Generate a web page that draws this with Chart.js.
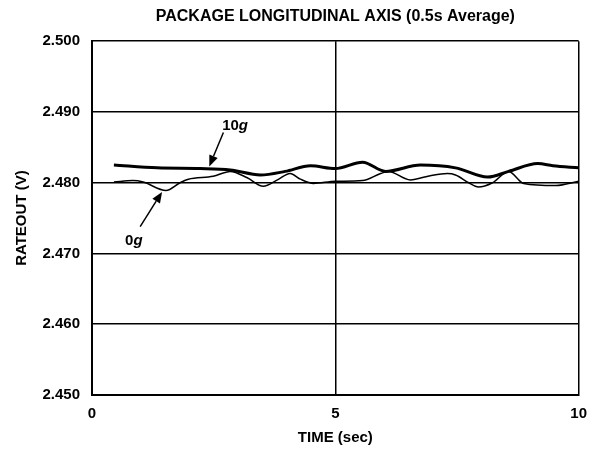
<!DOCTYPE html>
<html>
<head>
<meta charset="utf-8">
<script src="https://cdn.jsdelivr.net/npm/chart.js@4.4.0/dist/chart.umd.min.js"></script>
<style>
  html, body { margin: 0; padding: 0; background: #fff; }
</style>
</head>
<body>
<canvas id="chart" width="597" height="452"></canvas>
<script>
// data
const time10g = [0.45, 1.34, 2.22, 2.84, 3.46, 3.97, 4.49, 5.0, 5.56, 6.03, 6.75, 7.47, 8.13, 8.56, 9.16, 9.47, 10];
const rate10g = [2.4825, 2.4821, 2.4820, 2.4818, 2.4811, 2.4816, 2.4824, 2.4820, 2.4829, 2.4816, 2.4825, 2.4821, 2.4808, 2.4816, 2.4827, 2.4824, 2.4821];
const time0g = [0.45, 0.84, 1.05, 1.52, 1.81, 1.98, 2.49, 2.84, 3.19, 3.52, 3.81, 4.07, 4.28, 4.55, 5.0, 5.56, 5.93, 6.09, 6.54, 6.95, 7.30, 7.47, 7.74, 7.94, 8.23, 8.56, 8.87, 9.53, 10];
const rate0g = [2.4801, 2.4803, 2.4801, 2.4789, 2.4800, 2.4805, 2.4809, 2.4816, 2.4807, 2.4795, 2.4804, 2.4813, 2.4805, 2.4799, 2.4802, 2.4803, 2.4813, 2.4816, 2.4804, 2.4810, 2.4813, 2.4811, 2.4800, 2.4794, 2.4800, 2.4816, 2.4799, 2.4796, 2.4802];
const yTicks = [2.450, 2.460, 2.470, 2.480, 2.490, 2.500];
const xTicks = [0, 5, 10];
const seriesNames = ['10', '0'];

const FONT = "'Liberation Sans', Arial, Helvetica, sans-serif";

function toPoints(xs, ys) {
    return xs.map((x, i) => ({ x: x, y: ys[i] }));
}

// arrows + "10g" / "0g" labels, placed in data units
const callouts = {
    id: 'callouts',
    afterDatasetsDraw(chart) {
        const { ctx, scales: { x, y } } = chart;
        const items = [
            { name: seriesNames[0], text: [2.94, 2.4881], from: [2.70, 2.4871], to: [2.41, 2.4823] },
            { name: seriesNames[1], text: [0.86, 2.4718], from: [0.99, 2.4738], to: [1.44, 2.4787] }
        ];
        ctx.save();
        ctx.strokeStyle = '#000';
        ctx.fillStyle = '#000';
        items.forEach(it => {
            const x1 = x.getPixelForValue(it.from[0]), y1 = y.getPixelForValue(it.from[1]);
            const x2 = x.getPixelForValue(it.to[0]), y2 = y.getPixelForValue(it.to[1]);
            const ang = Math.atan2(y2 - y1, x2 - x1);
            const head = 11, half = 4.5;
            const bx = x2 - head * Math.cos(ang), by = y2 - head * Math.sin(ang);
            ctx.lineWidth = 1.5;
            ctx.beginPath();
            ctx.moveTo(x1, y1);
            ctx.lineTo(bx, by);
            ctx.stroke();
            ctx.beginPath();
            ctx.moveTo(x2, y2);
            ctx.lineTo(bx + half * Math.sin(ang), by - half * Math.cos(ang));
            ctx.lineTo(bx - half * Math.sin(ang), by + half * Math.cos(ang));
            ctx.closePath();
            ctx.fill();

            // number in bold, "g" in bold italic
            const tx = x.getPixelForValue(it.text[0]), ty = y.getPixelForValue(it.text[1]);
            ctx.textBaseline = 'middle';
            ctx.font = 'bold 15px ' + FONT;
            const w1 = ctx.measureText(it.name).width;
            ctx.font = 'italic bold 15px ' + FONT;
            const w2 = ctx.measureText('g').width;
            let sx = tx - (w1 + w2) / 2;
            ctx.textAlign = 'left';
            ctx.font = 'bold 15px ' + FONT;
            ctx.fillText(it.name, sx, ty);
            ctx.font = 'italic bold 15px ' + FONT;
            ctx.fillText('g', sx + w1, ty);
        });
        ctx.restore();
    }
};

const ctx = document.getElementById('chart').getContext('2d');
const chart = new Chart(ctx, {
    type: 'line',
    data: {
        datasets: [
            {
                label: '10g',
                data: toPoints(time10g, rate10g),
                borderColor: '#000',
                borderWidth: 3,
                pointRadius: 0,
                cubicInterpolationMode: 'monotone',
                fill: false
            },
            {
                label: '0g',
                data: toPoints(time0g, rate0g),
                borderColor: '#000',
                borderWidth: 1.5,
                pointRadius: 0,
                cubicInterpolationMode: 'monotone',
                fill: false
            }
        ]
    },
    options: {
        responsive: false,
        animation: false,
        devicePixelRatio: 1,
        layout: {
            padding: { left: 0, right: 18, top: 0, bottom: 0 }
        },
        plugins: {
            legend: { display: false },
            tooltip: { enabled: false },
            title: {
                display: true,
                fullSize: false,
                text: 'PACKAGE LONGITUDINAL AXIS (0.5s Average)',
                color: '#000',
                font: { family: FONT, size: 16, weight: 'bold' },
                padding: { top: 7, bottom: 15 }
            }
        },
        scales: {
            x: {
                type: 'linear',
                min: 0,
                max: 10,
                afterBuildTicks: axis => { axis.ticks = xTicks.map(v => ({ value: v })); },
                afterFit: axis => { axis.height = 57; },
                grid: { color: '#000', lineWidth: 1.5, drawTicks: false },
                border: { display: true, color: '#000', width: 2 },
                ticks: {
                    color: '#000',
                    padding: 10,
                    maxRotation: 0,
                    font: { family: FONT, size: 15, weight: 'bold' }
                },
                title: {
                    display: true,
                    text: 'TIME (sec)',
                    color: '#000',
                    font: { family: FONT, size: 15, weight: 'bold' },
                    padding: { top: 0, bottom: 5 }
                }
            },
            y: {
                min: 2.45,
                max: 2.50,
                afterBuildTicks: axis => { axis.ticks = yTicks.map(v => ({ value: v })); },
                afterFit: axis => { axis.width = 92; },
                grid: { color: '#000', lineWidth: 1.5, drawTicks: false },
                border: { display: true, color: '#000', width: 2 },
                ticks: {
                    color: '#000',
                    padding: 12,
                    font: { family: FONT, size: 15, weight: 'bold' },
                    callback: v => Number(v).toFixed(3)
                },
                title: {
                    display: true,
                    text: 'RATEOUT (V)',
                    color: '#000',
                    font: { family: FONT, size: 15, weight: 'bold' },
                    padding: { top: 13, bottom: 0 }
                }
            }
        }
    },
    plugins: [callouts]
});
</script>
</body>
</html>
